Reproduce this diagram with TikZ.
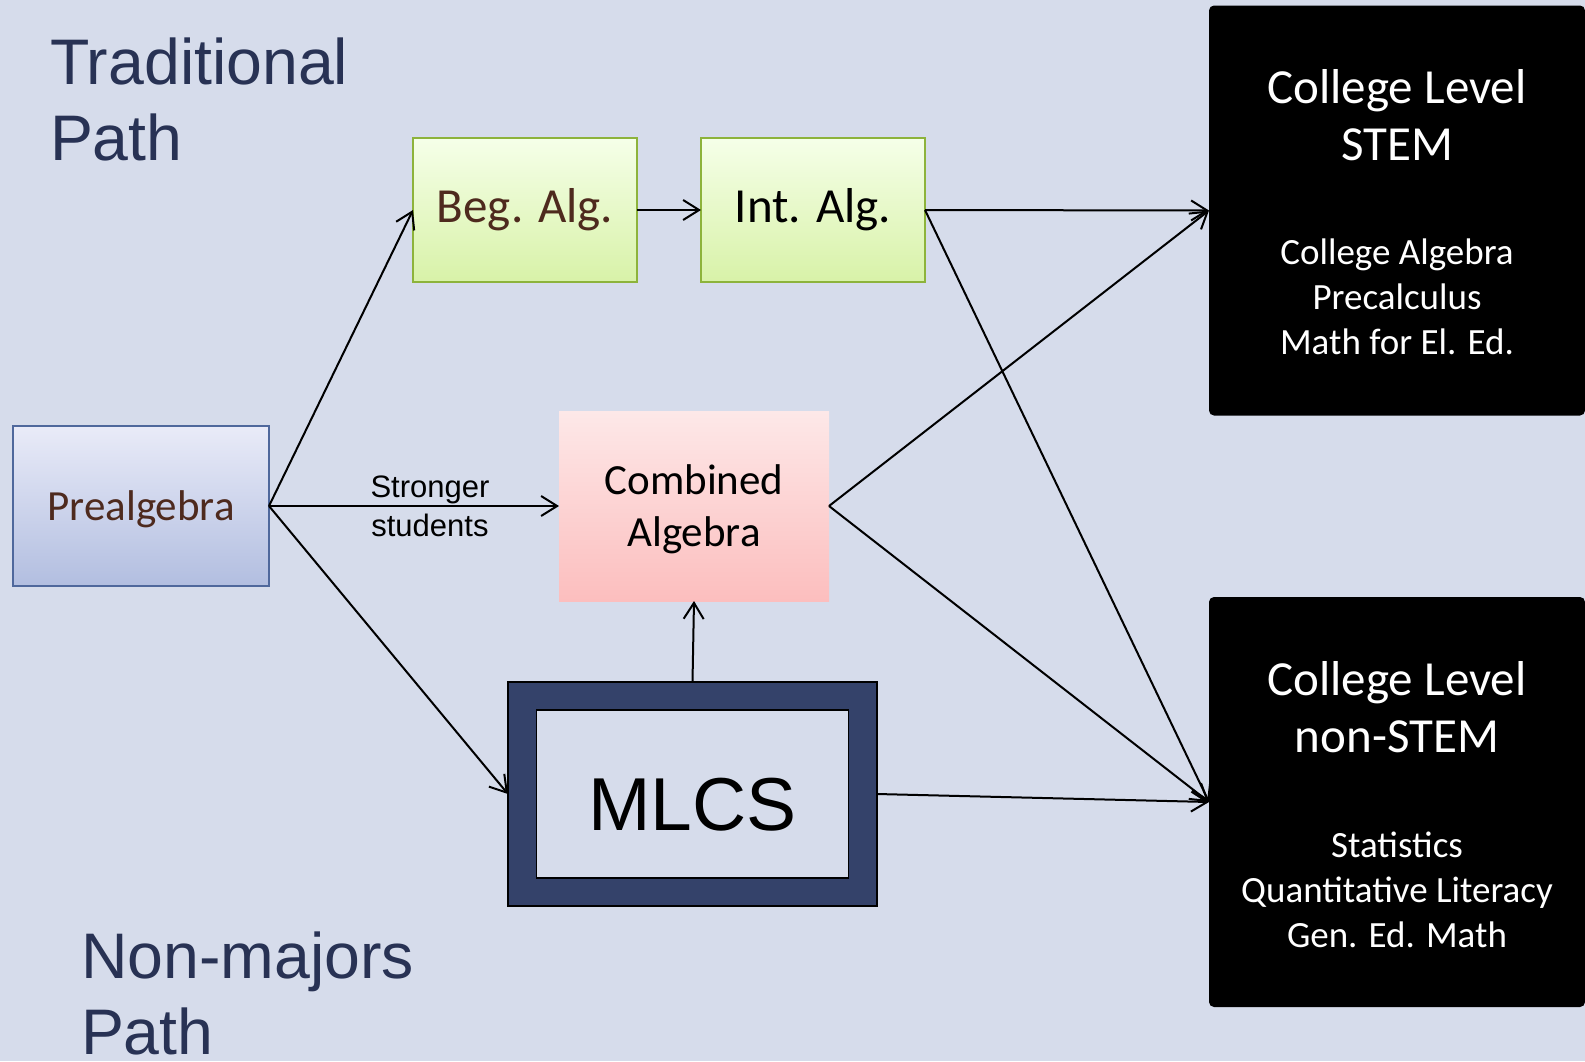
\documentclass[tikz,border=0pt]{standalone}
\usepackage{fontspec}
\setmainfont{Carlito}
\newfontfamily\arialfont{Liberation Sans}
\usetikzlibrary{arrows.meta}

\definecolor{slidebg}{RGB}{214,220,235}
\definecolor{titlenavy}{RGB}{40,50,84}
\definecolor{mlcsnavy}{RGB}{52,66,106}
\definecolor{brownink}{RGB}{78,42,30}
\definecolor{preborder}{RGB}{79,104,156}
\definecolor{greenborder}{RGB}{141,179,59}

\begin{document}
\begin{tikzpicture}[x=0.5pt,y=-0.5pt]
\tikzset{ >={Straight Barb[length=8pt,width=10pt]}, inner sep=0pt, outer sep=0pt,
  lnk/.style={->, line width=1pt},
  courseA/.style={rectangle, draw=greenborder, line width=0.8pt, top color=green!4!white!95!yellow, bottom color={rgb,255:red,216;green,242;blue,168}, minimum width=112pt, minimum height=72pt, font=\fontsize{24.5}{29}\selectfont},
  courseblack/.style={rectangle, rounded corners=2.5pt, fill=black, minimum width=188pt, minimum height=205pt},
  headtxt/.style={align=center, text=white, font=\fontsize{24.5}{28.5}\selectfont},
  listtxt/.style={align=center, text=white, font=\fontsize{18.5}{22.5}\selectfont},
  pathtitle/.style={anchor=west, align=left, text=titlenavy, font=\arialfont\fontsize{32.2}{38}\selectfont},
}
\fill [slidebg] (0,0) rectangle (1585,1061);
\useasboundingbox (0,0) rectangle (1585,1061);

\node [pathtitle] (trad) at (50,99) {Traditional\\Path};
\node [pathtitle] (nonmaj) at (81,993) {Non-majors\\Path};

\node [rectangle, draw=preborder, line width=0.8pt, top color={rgb,255:red,233;green,235;blue,248}, bottom color={rgb,255:red,178;green,190;blue,224}, minimum width=128pt, minimum height=80pt, text depth=0pt, text=brownink, font=\fontsize{21.5}{26}\selectfont] (prealg) at (141,506) {Prealgebra};

\node [courseA, text=brownink] (begalg) at (525,210) {Beg. Alg.};
\node [courseA] (intalg) at (813,210) {Int. Alg.};

\node [rectangle, top color={rgb,255:red,253;green,232;blue,232}, bottom color={rgb,255:red,252;green,190;blue,190}, minimum width=135pt, minimum height=95pt, align=center, text depth=0pt, font=\fontsize{21.5}{26}\selectfont] (combalg) at (694,506) {Combined\\Algebra};

\node [draw=black, line width=0.6pt, fill=mlcsnavy, minimum width=184.5pt, minimum height=112pt] (mlcs) at (692.5,794) {};
\node [draw=black, line width=0.6pt, fill=slidebg, minimum width=156pt, minimum height=84pt, text height=36.5pt, text depth=0pt, font=\arialfont\fontsize{37.5}{44}\selectfont] (mlcsin) at (mlcs.center) {MLCS};

\node [courseblack] (stem) at (1397,210.5) {};
\node [headtxt] (stemhead) at (1397,115) {College Level\\STEM};
\node [listtxt] (stemlist) at (1397,297) {College Algebra\\Precalculus\\Math for El. Ed.};

\node [courseblack] (nonstem) at (1397,802) {};
\node [headtxt] (nonstemhead) at (1397,707) {College Level\\non-STEM};
\node [listtxt] (nonstemlist) at (1397,890) {Statistics\\Quantitative Literacy\\Gen. Ed. Math};

\draw [lnk] (prealg.east) -- (begalg.west);
\draw [lnk] (prealg.east) -- (combalg.west)
  node [pos=0.555, align=center, font=\arialfont\fontsize{15.5}{19.5}\selectfont] (strong) {Stronger\\students};
\draw [lnk] (prealg.east) -- (mlcs.west);
\draw [lnk] (begalg.east) -- (intalg.west);
\draw [lnk] (intalg.east) -- (stem.west);
\draw [lnk] (intalg.east) -- (nonstem.west);
\draw [lnk] (combalg.east) -- (stem.west);
\draw [lnk] (combalg.east) -- (nonstem.west);
\draw [lnk] (mlcs.east) -- (nonstem.west);
\draw [lnk] (mlcs.north) -- (combalg.south);

\end{tikzpicture}
\end{document}
